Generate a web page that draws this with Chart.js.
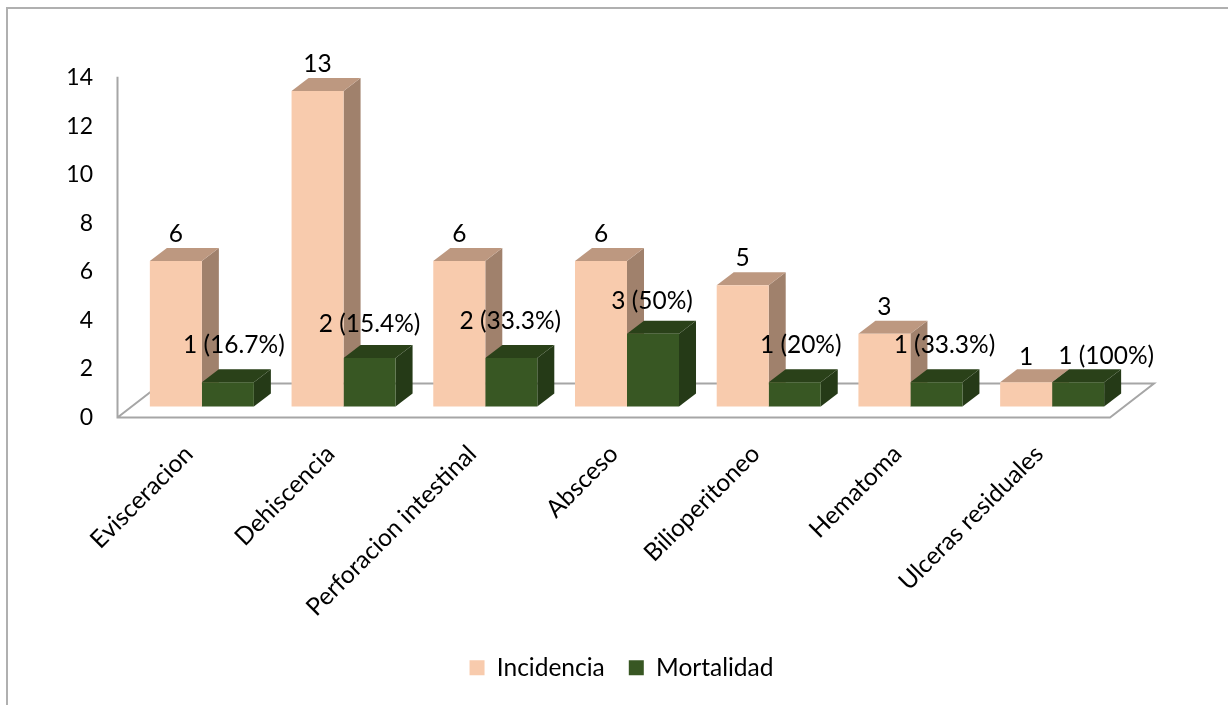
<!DOCTYPE html>
<html>
<head>
<meta charset="utf-8">
<title>Incidencia y mortalidad</title>
<script src="https://cdn.jsdelivr.net/npm/chart.js@4/dist/chart.umd.min.js"></script>
<style>
    html, body { margin: 0; padding: 0; background: #fff; }
    #frame { position: absolute; left: 6px; top: 7px; right: 0; bottom: 0; border-top: 2px solid #b0b0b0; border-left: 2px solid #b0b0b0; }
    canvas { position: absolute; left: 0; top: 0; }
</style>
</head>
<body>
<div id="frame"></div>
<canvas id="myChart" width="1228" height="705"></canvas>
<script>
'use strict';
const categorias = ['Evisceracion', 'Dehiscencia', 'Perforacion intestinal', 'Absceso', 'Bilioperitoneo', 'Hematoma', 'Ulceras residuales'];
const incidencia = [6, 13, 6, 6, 5, 3, 1];
const mortalidad = [1, 2, 2, 3, 1, 1, 1];
const etiquetasIncidencia = ['6', '13', '6', '6', '5', '3', '1'];
const etiquetasMortalidad = ['1 (16.7%)', '2 (15.4%)', '2 (33.3%)', '3 (50%)', '1 (20%)', '1 (33.3%)', '1 (100%)'];

const fuente = { family: 'Lato', size: 24.5 };
const fuenteEje = { family: 'Lato', size: 23 };

// label nudges from the bar centre, the original has them hand placed
const ajusteIncidencia = [[0, -27], [0, -27], [0, -27], [0, -27], [0, -27], [0, -27], [0, -25]];
const ajusteMortalidad = [[6, -37], [0, -34], [-1, -37], [-1, -33], [6, -37], [8, -37], [28, -26]];

const fondo = 14, suelo = { dx: 44, dy: 34 }, prof = { dx: 17, dy: 13 };

// fake 3D: floor and wall, then top and side of each bar
const barras3d = {
    id: 'barras3d',
    beforeDatasetsDraw(chart) {
        const ctx = chart.ctx;
        const area = chart.chartArea;
        const eje = chart.scales.y;
        const y0 = eje.getPixelForValue(0);
        const xIzq = area.left - fondo + 0.5;
        const xDer = area.right - 13;

        ctx.save();
        ctx.strokeStyle = '#a6a6a6';
        ctx.lineWidth = 2;
        ctx.beginPath();
        ctx.moveTo(xIzq, eje.getPixelForValue(14) - 1);
        ctx.lineTo(xIzq, y0);
        ctx.lineTo(xDer, y0);
        ctx.lineTo(xDer + suelo.dx, y0 - suelo.dy);
        ctx.lineTo(xIzq + suelo.dx, y0 - suelo.dy);
        ctx.lineTo(xIzq, y0);
        ctx.stroke();

        chart.data.datasets.forEach((ds, i) => {
            chart.getDatasetMeta(i).data.forEach(bar => {
                const izq = bar.x - bar.width / 2;
                const der = bar.x + bar.width / 2;
                const base = bar.base;
                ctx.fillStyle = ds.colorLado;
                ctx.beginPath();
                ctx.moveTo(der, bar.y);
                ctx.lineTo(der + prof.dx, bar.y - prof.dy);
                ctx.lineTo(der + prof.dx, base - prof.dy);
                ctx.lineTo(der, base);
                ctx.closePath();
                ctx.fill();
                ctx.fillStyle = ds.colorTapa;
                ctx.beginPath();
                ctx.moveTo(izq, bar.y);
                ctx.lineTo(izq + prof.dx, bar.y - prof.dy);
                ctx.lineTo(der + prof.dx, bar.y - prof.dy);
                ctx.lineTo(der, bar.y);
                ctx.closePath();
                ctx.fill();
            });
        });
        ctx.restore();
    },
    afterDatasetsDraw(chart) {
        const ctx = chart.ctx;
        ctx.save();
        ctx.font = fuente.size + 'px ' + fuente.family;
        ctx.fillStyle = '#000';
        ctx.textAlign = 'center';
        ctx.textBaseline = 'middle';
        const pintar = (indice, textos, ajustes) => {
            chart.getDatasetMeta(indice).data.forEach((bar, i) => {
                ctx.fillText(textos[i], bar.x + ajustes[i][0], bar.y + ajustes[i][1]);
            });
        };
        pintar(0, etiquetasIncidencia, ajusteIncidencia);
        pintar(1, etiquetasMortalidad, ajusteMortalidad);
        ctx.restore();
    }
};

const ctx = document.getElementById('myChart').getContext('2d');
new Chart(ctx, {
    type: 'bar',
    plugins: [barras3d],
    data: {
        labels: categorias,
        datasets: [{
            label: 'Incidencia',
            data: incidencia,
            yAxisID: 'yBarras',
            backgroundColor: '#f8cbad',
            colorTapa: '#bd9880',
            colorLado: '#a0816c'
        }, {
            label: 'Mortalidad',
            data: mortalidad,
            yAxisID: 'yBarras',
            backgroundColor: '#385723',
            colorTapa: '#2a4119',
            colorLado: '#253a17'
        }]
    },
    options: {
        responsive: false,
        animation: false,
        layout: { padding: { left: 15, top: 0, right: 0, bottom: 15 } },
        datasets: { bar: { barPercentage: 1, categoryPercentage: 0.734 } },
        plugins: {
            tooltip: { enabled: false },
            legend: {
                position: 'bottom',
                labels: { font: fuente, color: '#000', boxWidth: 15, boxHeight: 15, padding: 24 }
            }
        },
        scales: {
            x: {
                grid: { display: false, drawTicks: false },
                border: { display: false },
                afterFit(scale) { scale.height = 214; },
                ticks: { font: fuente, color: '#000', minRotation: 45, maxRotation: 45, padding: 22, labelOffset: -13, autoSkip: false }
            },
            // visible axis, sits on the front edge of the floor
            y: {
                position: 'left',
                min: 0,
                max: 15.07,
                grid: { display: false, drawTicks: false },
                border: { display: false },
                afterFit(scale) { scale.width = 116; },
                ticks: { font: fuenteEje, color: '#000', stepSize: 2, includeBounds: false, padding: 38 }
            },
            // the bars stand further back on the floor, so they get their own scale
            yBarras: {
                position: 'right',
                min: -0.4545,
                max: 14.62,
                grid: { display: false, drawTicks: false },
                border: { display: false },
                afterFit(scale) { scale.width = 105; },
                ticks: { display: false }
            }
        }
    }
});
</script>
</body>
</html>
